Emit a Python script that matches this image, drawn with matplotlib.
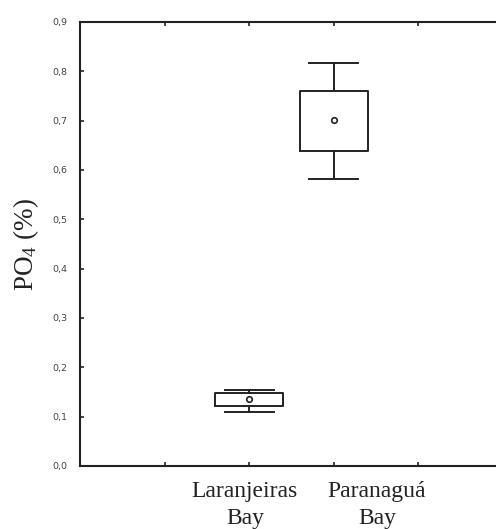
import matplotlib
matplotlib.use("Agg")
import matplotlib.pyplot as plt

plt.rcParams["mathtext.fontset"] = "custom"
plt.rcParams["mathtext.rm"] = "Liberation Serif"
plt.rcParams["mathtext.it"] = "Liberation Serif:italic"

categories = ["Laranjeiras\nBay", "Paranaguá\nBay"]
positions = [2, 3]
label_positions = [1.95, 3.51]
means = [0.135, 0.701]
box_low = [0.122, 0.638]
box_high = [0.147, 0.761]
whisk_low = [0.110, 0.582]
whisk_high = [0.155, 0.816]
yticks = [0.0, 0.1, 0.2, 0.3, 0.4, 0.5, 0.6, 0.7, 0.8, 0.9]
ytick_labels = ["0,0", "0,1", "0,2", "0,3", "0,4", "0,5", "0,6", "0,7", "0,8", "0,9"]

fig = plt.figure(figsize=(4.96, 5.29), dpi=100)
ax = fig.add_axes([80/496, 63/529, 423/496, 444/529])

stats = []
for i in range(len(categories)):
    stats.append(dict(med=means[i], mean=means[i], q1=box_low[i], q3=box_high[i],
                      whislo=whisk_low[i], whishi=whisk_high[i], fliers=[]))

lw = 1.4
ax.bxp(stats, positions=positions, widths=0.81, showmeans=True, showfliers=False,
       boxprops=dict(color="#222", linewidth=lw),
       whiskerprops=dict(color="#222", linewidth=lw),
       capprops=dict(color="#222", linewidth=lw),
       medianprops=dict(linewidth=0),
       meanprops=dict(marker="o", markersize=4, markerfacecolor="white",
                      markeredgecolor="#222", markeredgewidth=1.2),
       capwidths=0.58, manage_ticks=False)

ax.set_xlim(0, 5)
ax.set_ylim(0, 0.9)
ax.set_xticks([1, 2, 3, 4])
ax.set_xticklabels([])
for lab, xp in zip(categories, label_positions):
    ax.annotate(lab, xy=(xp, 0), xycoords=("data", "axes fraction"),
                xytext=(0, -10.5), textcoords="offset points", ha="center", va="top",
                fontfamily="Liberation Serif", fontsize=17, color="#222",
                linespacing=1.4, annotation_clip=False)
ax.set_yticks(yticks)
ax.set_yticklabels(ytick_labels, fontsize=6.8, color="#444")
ax.tick_params(axis="both", direction="in", length=3, width=1.2, color="#222",
               top=True, right=True)
ax.tick_params(axis="y", pad=9)
for s in ax.spines.values():
    s.set_linewidth(1.5)
    s.set_color("#222")
ax.spines["right"].set_visible(False)

ax.set_ylabel("PO$_4$ (%)", fontfamily="Liberation Serif", fontsize=19.5,
              color="#222", labelpad=8.5)

fig.savefig("out.png", dpi=100)
